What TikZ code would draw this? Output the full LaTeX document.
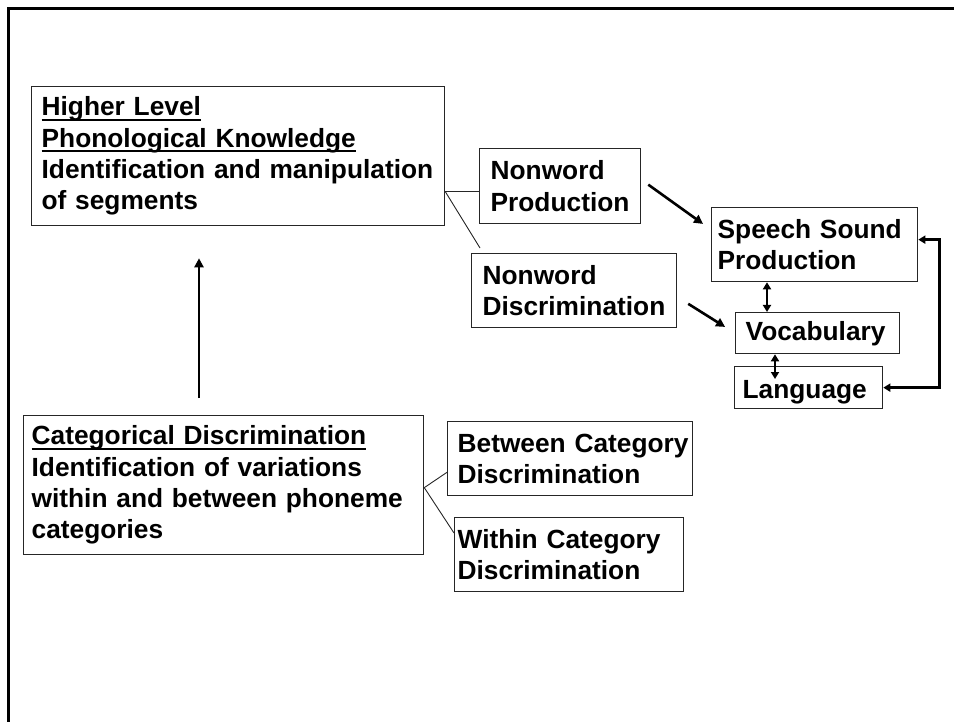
\documentclass[tikz,border=0pt]{standalone}
\usepackage{fontspec}
\setmainfont{Liberation Sans}
\usetikzlibrary{arrows.meta}
\newcommand\myul[1]{\leavevmode\setbox0\hbox{#1}\rlap{\vrule height -2.6pt depth 5pt width \wd0}\box0}
\begin{document}
\begin{tikzpicture}[x=1pt,y=-1pt,
  bx/.style={draw=black!85, line width=1.3pt, anchor=north west, align=left,
    inner ysep=0pt, font=\fontsize{26.3}{31.3}\selectfont\bfseries},
  link/.style={line width=0.9pt, draw=black!85},
  arr/.style={line width=2.6pt, -{Triangle[length=9pt,width=9pt]}},
  dbl/.style={line width=2.6pt, {Triangle[length=7pt,width=8pt]}-{Triangle[length=7pt,width=8pt]}},
]
\useasboundingbox (0,0) rectangle (954,722);
% frame
\draw[line width=3pt] (8,730) -- (8,9) -- (960,9);

% boxes
\node[bx, minimum width=413pt, minimum height=139pt, inner xsep=10pt, text width=393pt] (hl) at (31,86)
  {\myul{Higher Level}\\ \myul{Phonological Knowledge}\\ \mbox{Identification and manipulation}\\ of segments};
\node[bx, minimum width=161pt, minimum height=75pt, inner xsep=11pt, text width=139pt] (np) at (479,148)
  {Nonword\\ Production};
\node[bx, minimum width=205pt, minimum height=74pt, inner xsep=11pt, text width=183pt] (nd) at (471,253)
  {Nonword\\ Discrimination};
\node[bx, minimum width=206pt, minimum height=74pt, inner xsep=6pt, text width=194pt] (ss) at (711,207)
  {\mbox{Speech Sound}\\ Production};
\node[bx, minimum width=164pt, minimum height=41pt, inner xsep=10pt, text width=144pt,
  text height=22pt, text depth=7pt] (vo) at (735,312)
  {Vocabulary};
\node[bx, minimum width=148pt, minimum height=42pt, inner xsep=8pt, text width=132pt,
  text height=26pt, text depth=4pt] (la) at (734,366)
  {Language};
\node[bx, minimum width=400pt, minimum height=139pt, inner xsep=8pt, text width=384pt] (cd) at (23,415)
  {\myul{Categorical Discrimination}\\ \mbox{Identification of variations}\\ \mbox{within and between phoneme}\\ categories};
\node[bx, minimum width=245pt, minimum height=74pt, inner xsep=10pt, text width=225pt] (bc) at (447,421)
  {\mbox{Between Category}\\ Discrimination};
\node[bx, minimum width=229pt, minimum height=74pt, inner xsep=3pt, text width=223pt] (wc) at (454,517)
  {\mbox{Within Category}\\ Discrimination};

% thin links
\coordinate (hj) at ([yshift=-35.5pt]hl.east);
\draw[link] (hj) -- (hj -| np.west);
\draw[link] (hj) -- ([xshift=9pt,yshift=5pt]nd.north west);
\coordinate (cj) at ([yshift=-2.5pt]cd.east);
\draw[link] (cj) -- ([yshift=24pt]bc.south west);
\draw[link] (cj) -- ([yshift=-16pt]wc.north west);

% thick arrows
\draw[arr, shorten <=8.6pt, shorten >=9.8pt] ([yshift=6.5pt]np.east) -- ([yshift=15pt]ss.west);
\draw[arr, shorten <=12.9pt, shorten >=11.7pt] ([yshift=-6.3pt]nd.east) -- (vo.west);
\draw[arr, shorten <=17pt, shorten >=32pt] ([xshift=176pt]cd.north west) -- ([xshift=176pt]cd.north west |- hl.south);

% double arrows
\draw[dbl] ([xshift=56pt]ss.south west) -- ([xshift=56pt]ss.south west |- vo.north);
\coordinate (vl) at ([xshift=40pt]vo.south west);
\draw[dbl, shorten >=-13pt] (vl) -- (vl |- la.north);
\draw[dbl] ([yshift=5pt]ss.east) -- ++(21,0) |- (la.east);
\end{tikzpicture}
\end{document}
